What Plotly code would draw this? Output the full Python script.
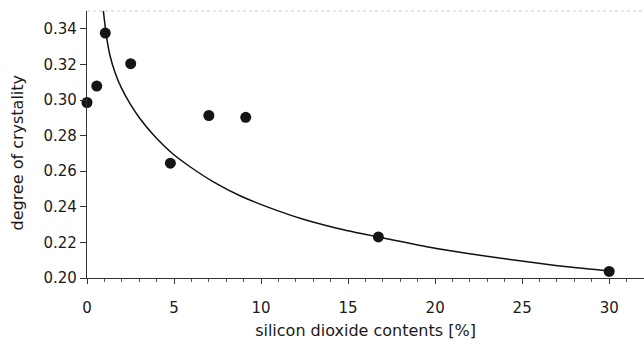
import plotly.graph_objects as go

# measured points
silica = [0.0, 0.56, 1.05, 2.51, 4.79, 7.0, 9.12, 16.74, 30.0]
crystallinity = [0.2986, 0.3078, 0.3376, 0.3204, 0.2645, 0.2913, 0.2903, 0.2231, 0.2037]

# fitted curve
fit_x = [0.94, 1.13, 1.32, 1.61, 1.99, 2.47, 3.05, 3.81, 4.96, 5.92, 7.26,
         8.79, 10.90, 12.43, 14.35, 16.70, 19.52, 22.97, 25.84, 28.14, 29.96]
fit_y = [0.350, 0.335, 0.325, 0.3155, 0.3065, 0.298, 0.2895, 0.2805, 0.2695,
         0.2625, 0.2540, 0.2462, 0.2380, 0.2330, 0.2280, 0.2231, 0.2176,
         0.2122, 0.2084, 0.2057, 0.2040]

x_ticks = [0, 5, 10, 15, 20, 25, 30]
y_ticks = [0.20, 0.22, 0.24, 0.26, 0.28, 0.30, 0.32, 0.34]

FONT = "DejaVu Sans, Arial, sans-serif"

fig = go.Figure()
fig.add_trace(go.Scatter(x=fit_x, y=fit_y, mode="lines",
                         line=dict(color="#111111", width=1.5, shape="spline", smoothing=0.8),
                         showlegend=False, hoverinfo="skip"))
fig.add_trace(go.Scatter(x=silica, y=crystallinity, mode="markers",
                         marker=dict(color="#151515", size=11),
                         showlegend=False, cliponaxis=False))

fig.update_layout(
    width=644, height=347,
    margin=dict(l=87, r=0, t=11, b=69),
    paper_bgcolor="white", plot_bgcolor="white",
    font=dict(family=FONT, size=15, color="#1a1a1a"),
    xaxis=dict(
        range=[0, 32], tickvals=x_ticks, ticktext=[str(v) for v in x_ticks],
        showgrid=False, zeroline=False,
        showline=True, linecolor="#333333", linewidth=1.2,
        ticks="outside", ticklen=5, tickcolor="#333333", tickwidth=1,
        minor=dict(dtick=1, ticks="outside", ticklen=3, tickcolor="#555555"),
        tickfont=dict(size=15), ticklabelstandoff=11,
        title=dict(text="silicon dioxide contents [%]", font=dict(size=16), standoff=8),
    ),
    yaxis=dict(
        range=[0.20, 0.35], tickvals=y_ticks, ticktext=[f"{v:.2f}" for v in y_ticks],
        showgrid=False, zeroline=False,
        showline=True, linecolor="#333333", linewidth=1.2,
        ticks="outside", ticklen=6, tickcolor="#333333", tickwidth=1,
        tickfont=dict(size=15),
    ),
)

# y-axis title placed as rotated annotation (slightly below the axis centre, as in the original)
fig.add_annotation(text="degree of crystality", textangle=-90,
                   xref="paper", yref="paper", x=0, y=0.47,
                   xanchor="center", yanchor="middle", xshift=-69,
                   showarrow=False, font=dict(family=FONT, size=16, color="#1a1a1a"))

# faint dotted frame line at the top
fig.add_shape(type="line", xref="paper", yref="paper", x0=0, x1=1, y0=1, y1=1,
              line=dict(color="#c8c8c8", width=1, dash="dot"))

fig.write_html("out.html")
